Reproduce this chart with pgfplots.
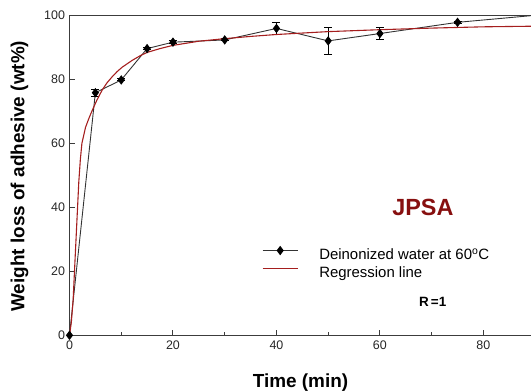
\documentclass[border=0pt]{standalone}
\usepackage{fontspec}
\setmainfont{Liberation Sans}
\usepackage{pgfplots}
\pgfplotsset{compat=1.18}
\definecolor{axgray}{RGB}{60,60,60}
\definecolor{regred}{RGB}{165,30,30}
\definecolor{jpsared}{RGB}{135,15,15}
\pgfplotsset{
  widelegend/.style={
    legend image code/.code={%
      \draw[mark repeat=2, mark phase=2, ##1] plot coordinates {(0bp,5bp) (17.5bp,5bp) (35bp,5bp)};}
  }
}
\begin{document}
\begin{tikzpicture}
\begin{axis}[
  scale only axis,
  width=462bp, height=320bp,
  xmin=0, xmax=89.3, ymin=0, ymax=100,
  axis lines*=left,
  axis line style={axgray, line width=1.3pt},
  tick style={axgray, line width=1pt},
  tick align=inside,
  major tick length=5bp, minor tick length=3bp,
  xtick={0,20,40,60,80}, minor xtick={10,30,50,70},
  ytick={0,20,40,60,80,100},
  hide obscured x ticks=false, hide obscured y ticks=false,
  /pgf/number format/assume math mode=true,
  tick label style={font=\fontsize{12.5}{14}\selectfont, text=black!85},
  xticklabel style={yshift=-2bp},
  yticklabel style={xshift=-1bp},
  xlabel={Time (min)},
  ylabel={Weight loss of adhesive (wt\%)},
  label style={font=\fontsize{19}{22}\selectfont\bfseries},
  xlabel style={at={(axis description cs:0.5,-0.147)}, anchor=center},
  ylabel style={at={(axis description cs:-0.108,0.497)}, anchor=center},
  legend style={draw=none, fill=none, at={(axis cs:37.2,27.8)}, anchor=north west,
    inner sep=0pt, row sep=4bp,
    font=\fontsize{15}{17}\selectfont,
    nodes={inner sep=0pt, text height=11bp, text depth=3bp},
    /tikz/every odd column/.append style={column sep=21bp}},
  legend cell align=left,
]
\coordinate (O) at (rel axis cs:0,0);
\draw[axgray, line width=1.3pt] (rel axis cs:0,1) -- (rel axis cs:1,1);
\addplot[black!80, line width=0.9pt, mark=diamond*, mark size=4bp,
  mark options={black, solid}, widelegend,
  error bars/.cd, y dir=both, y explicit,
  error bar style={black, line width=1pt},
  error mark options={rotate=90, mark size=4bp, line width=1pt, black}]
  coordinates {
  (0,0) +- (0,0)
  (5,75.8) +- (0,1.1)
  (10,79.8) +- (0,0.3)
  (15,89.6) +- (0,0.4)
  (20,91.6) +- (0,0.4)
  (30,92.3) +- (0,0.3)
  (40,95.9) +- (0,1.9)
  (50,92.0) +- (0,4.1)
  (60,94.3) +- (0,1.9)
  (75,97.8) +- (0,0.4)
  (90,100) +- (0,0)
  };
\addlegendentry{Deinonized water at 60\textsuperscript{o}C}
\addplot[regred, line width=1.1pt, mark=none, widelegend] coordinates {
  (0,0) (0.35,4) (0.7,11) (1.16,26.6) (1.5,38) (1.8,48) (2.1,55) (2.4,60)
  (3.1,65) (3.8,68) (4.4,70.3) (5.3,73.5) (6.3,76.6) (7.2,78.8) (8.2,80.7)
  (9.2,82.4) (10.2,83.8) (12.1,85.9) (13.7,87.4) (15,88.4) (17.5,89.6)
  (20,90.6) (25,91.9) (30,92.7) (35,93.4) (40,94) (50,94.9) (60,95.5)
  (70,96) (80,96.4) (90,96.6)
  };
\addlegendentry{Regression line}
\node[font=\fontsize{23.5}{26}\selectfont\bfseries, text=jpsared] at (axis cs:68.3,40) {JPSA};
\node[font=\fontsize{13.5}{15}\selectfont\bfseries] at (axis cs:70.2,10.3) {R\,=1};
\end{axis}
\pgfresetboundingbox
\path[use as bounding box] (O) ++(-69.5bp,-55.7bp) rectangle ++(531bp,391bp);
\end{tikzpicture}
\end{document}
